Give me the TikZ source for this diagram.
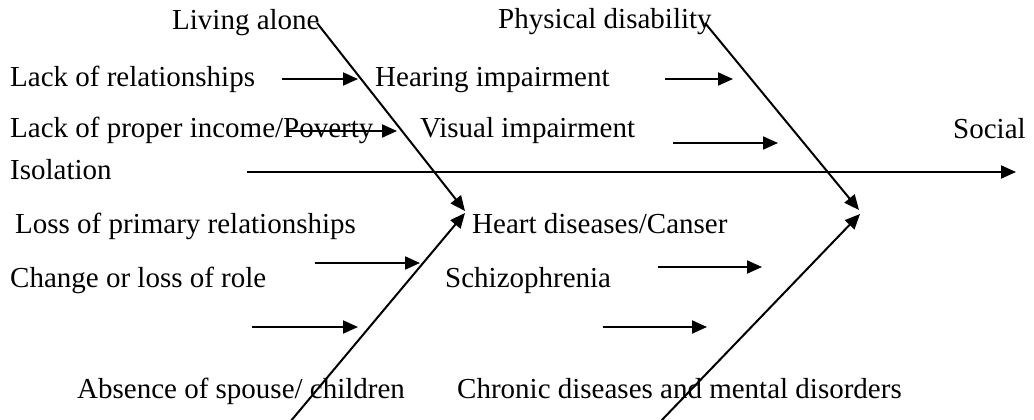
\documentclass[tikz,border=0pt]{standalone}
\usepackage{fontspec}
\setmainfont{Liberation Serif}
\usetikzlibrary{arrows.meta}
\newcommand\lblfont{\fontsize{29}{35}\selectfont}
\begin{document}
\begin{tikzpicture}[x=1pt,y=-1pt,
  lbl/.style={anchor=base west, inner sep=0pt, font=\lblfont},
  arr/.style={line width=2pt, -{Triangle[length=15pt,width=13pt]}}]
\useasboundingbox (0,0) rectangle (1034,420);
% texts
\node[lbl] (living)  at (172,30)  {Living alone};
\node[lbl] (phys)    at (498,29)  {Physical disability};
\node[lbl] (lackrel) at (10,87)   {Lack of relationships};
\node[lbl] (hear)    at (375,87)  {Hearing impairment};
\node[lbl] (income)  at (10,137)  {Lack of proper income/Poverty};
\node[lbl] (visual)  at (420,137) {Visual impairment};
\node[lbl] (social)  at (953,138) {Social};
\node[lbl] (isol)    at (10,179)  {Isolation};
\node[lbl] (loss)    at (15,233)  {Loss of primary relationships};
\node[lbl] (heart)   at (472,233) {Heart diseases/Canser};
\node[lbl] (change)  at (10,287)  {Change or loss of role};
\node[lbl] (schizo)  at (445,287) {Schizophrenia};
\node[lbl] (absence) at (77,398)  {Absence of spouse/ children};
\node[lbl] (chronic) at (457,398) {Chronic diseases and mental disorders};
% coordinates
\coordinate (a1s) at (282,79);  \coordinate (a1e) at (358,79);
\coordinate (a2s) at (665,79);  \coordinate (a2e) at (733,79);
\coordinate (a3s) at (288,131); \coordinate (a3e) at (397,131);
\coordinate (a4s) at (673,143); \coordinate (a4e) at (778,143);
\coordinate (sps) at (247,172); \coordinate (spe) at (1016,172);
\coordinate (a5s) at (315,263); \coordinate (a5e) at (420,263);
\coordinate (a6s) at (658,267); \coordinate (a6e) at (762,267);
\coordinate (a7s) at (252,327); \coordinate (a7e) at (358,327);
\coordinate (a8s) at (603,327); \coordinate (a8e) at (707,327);
\coordinate (d1s) at (317,23);  \coordinate (d1e) at (465,211);
\coordinate (d2s) at (705,23);  \coordinate (d2e) at (859,210);
\coordinate (d3s) at (290,422); \coordinate (d3e) at (465,213);
\coordinate (d4s) at (660,422); \coordinate (d4e) at (860,214);
% arrows
\draw[arr] (a1s) -- (a1e);
\draw[arr] (a2s) -- (a2e);
\draw[arr] (a3s) -- (a3e);
\draw[arr] (a4s) -- (a4e);
\draw[arr] (sps) -- (spe);
\draw[arr] (a5s) -- (a5e);
\draw[arr] (a6s) -- (a6e);
\draw[arr] (a7s) -- (a7e);
\draw[arr] (a8s) -- (a8e);
\draw[arr] (d1s) -- (d1e);
\draw[arr] (d2s) -- (d2e);
\draw[arr] (d3s) -- (d3e);
\draw[arr] (d4s) -- (d4e);
\end{tikzpicture}
\end{document}
